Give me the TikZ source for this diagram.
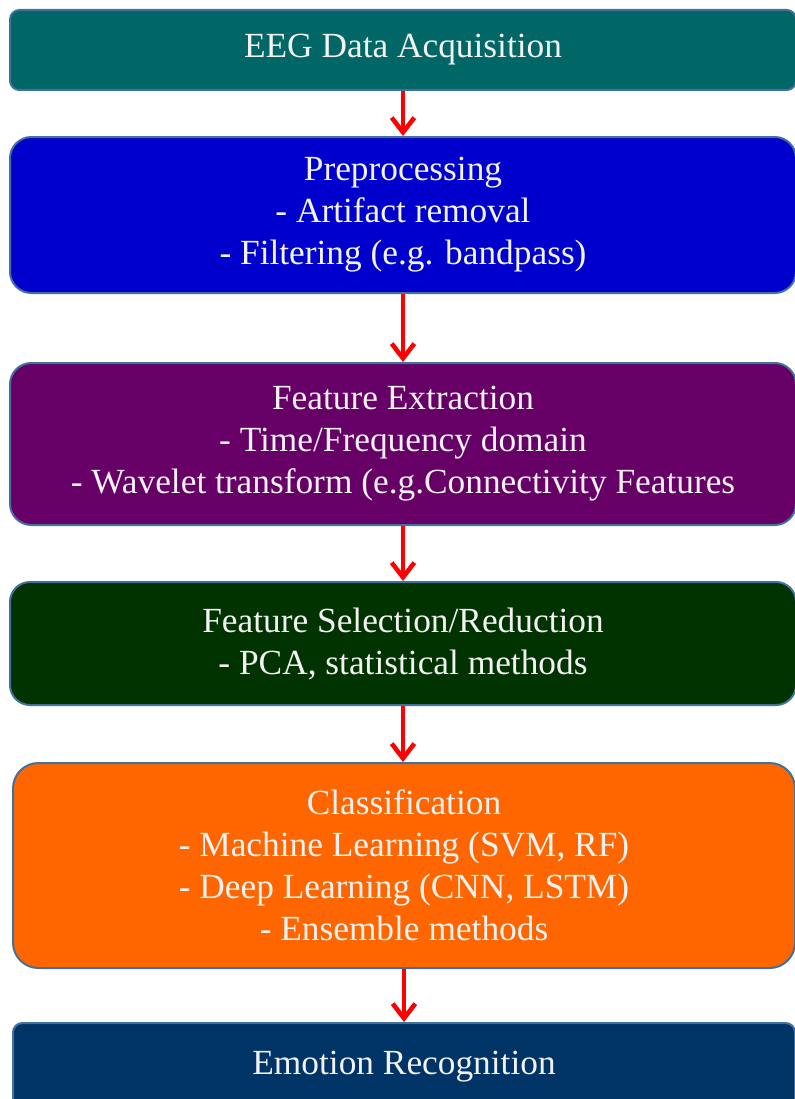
\documentclass[tikz,border=0pt]{standalone}
\usepackage{fontspec}
\setmainfont{Liberation Serif}
\usetikzlibrary{arrows.meta}
\definecolor{edgeBlue}{RGB}{65,113,156}
\definecolor{acqTeal}{RGB}{0,102,102}
\definecolor{preBlue}{RGB}{0,0,204}
\definecolor{featPurple}{RGB}{102,0,102}
\definecolor{selGreen}{RGB}{0,51,0}
\definecolor{clsOrange}{RGB}{255,102,0}
\definecolor{emoNavy}{RGB}{0,51,102}
\tikzset{
  stage/.style={draw=edgeBlue, line width=1.5pt, text=white!95!black,
    font=\fontsize{26.5}{31.5}\selectfont, align=center,
    minimum width=589.5pt, inner sep=0pt},
  flow/.style={red, line width=3.4pt, -{Straight Barb[length=11pt,width=17pt]}}
}
\begin{document}
\begin{tikzpicture}[x=0.75pt,y=-0.75pt]
        \useasboundingbox (0,0) rectangle (795,1099);
        \clip (0,0) rectangle (795,1099);
        % stages, top to bottom
        \node[stage, fill=acqTeal, rounded corners=7pt, minimum height=60pt] (acq) at (403,50) {EEG Data Acquisition};
        \node[stage, fill=preBlue, rounded corners=16pt, minimum height=117pt] (pre) at (403,215) {Preprocessing\\- Artifact removal\\- Filtering (e.g. bandpass)};
        \node[stage, fill=featPurple, rounded corners=16pt, minimum height=121.5pt] (feat) at (403,444) {Feature Extraction\\- Time/Frequency domain\\- Wavelet transform (e.g.Connectivity Features};
        \node[stage, fill=selGreen, rounded corners=15pt, minimum height=92.25pt] (sel) at (403,643.5) {Feature Selection/Reduction\\- PCA, statistical methods};
        \node[stage, fill=clsOrange, rounded corners=19pt, minimum height=153.75pt, minimum width=586.5pt] (cls) at (404,865.5) {Classification\\- Machine Learning (SVM, RF)\\- Deep Learning (CNN, LSTM)\\- Ensemble methods};
        \node[stage, fill=emoNavy, rounded corners=7pt, minimum height=66pt, minimum width=586.5pt] (emo) at (404,1067) {Emotion Recognition};
        % red arrows between stages
        \draw[flow] (acq.south) -- (pre.north);
        \draw[flow] (pre.south) -- (feat.north);
        \draw[flow] (feat.south) -- (sel.north);
        \draw[flow] (sel.south) -- (sel.south |- cls.north);
        \draw[flow] (cls.south) -- (emo.north);
\end{tikzpicture}
\end{document}
